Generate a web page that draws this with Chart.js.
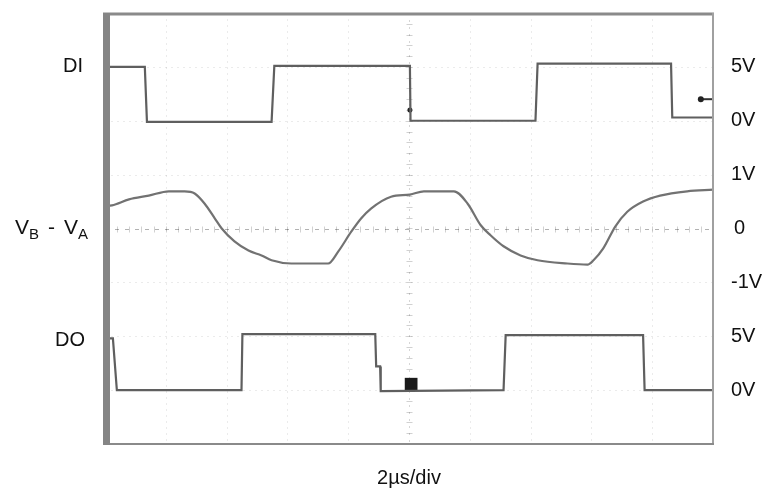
<!DOCTYPE html>
<html>
<head>
<meta charset="utf-8">
<script src="https://cdn.jsdelivr.net/npm/chart.js@4/dist/chart.umd.min.js"></script>
<style>
  html, body { margin: 0; padding: 0; background: #ffffff; }
  #wrap { width: 770px; height: 490px; }
</style>
</head>
<body>
<div id="wrap"><canvas id="scope" width="770" height="490"></canvas></div>
<script>
// Time base: 2 us per division, 10 divisions
const timeTicks = [0, 2, 4, 6, 8, 10, 12, 14, 16, 18, 20];
const verticalDivs = [0, 1, 2, 3, 4, 5, 6, 7, 8];

// DI (driver input), volts vs microseconds
const diTime  = [0, 1.31, 1.38, 5.48, 5.57, 10.03, 10.05, 14.16, 14.23, 18.62, 18.66, 20];
const diVolts = [5.0, 5.0, -0.1, -0.1, 5.1, 5.1, 0.0, 0.0, 5.3, 5.3, 0.3, 0.3];

// Differential bus voltage VB - VA
const diffTime  = [0, 0.23, 0.79, 1.44, 2.10, 2.62, 2.95, 3.28, 3.61, 3.84, 4.26, 4.72, 5.15, 5.48, 6.13, 7.34,
                   7.67, 8.10, 8.43, 8.75, 9.41, 10.03, 10.49, 11.48, 11.93, 12.36, 12.69, 13.11, 13.67, 14.23,
                   15.21, 15.87, 16.07, 16.39, 16.79, 17.18, 17.70, 18.26, 19.15, 20];
const diffVolts = [0.42, 0.43, 0.54, 0.61, 0.69, 0.69, 0.65, 0.46, 0.19, 0.0, -0.24, -0.41, -0.50, -0.59, -0.65, -0.65,
                   -0.43, -0.06, 0.19, 0.37, 0.59, 0.63, 0.69, 0.69, 0.46, 0.06, -0.13, -0.33, -0.50, -0.59,
                   -0.65, -0.67, -0.59, -0.37, 0.04, 0.31, 0.50, 0.61, 0.69, 0.72];

// DO (receiver output)
const doTime  = [0, 0.26, 0.39, 4.49, 4.52, 8.89, 8.92, 9.05, 9.07, 13.11, 13.18, 17.70, 17.75, 20];
const doVolts = [4.8, 4.8, 0.0, 0.0, 5.2, 5.2, 2.2, 2.2, -0.1, 0.0, 5.1, 5.1, 0.0, 0.0];

// Trigger / cursor markers
const trigTime = [19.6, 20];
const trigVolts = [2.0, 2.0];
const diEdgeMark = [{ t: 10.03, v: 1.0 }];
const doCursorMark = [{ t: 10.07, v: 0.55 }];

// Channel labels drawn at the right edge (value on each channel's own scale)
const diTickLabels   = [{ v: 5, text: '5V' }, { v: 0, text: '0V' }];
const diffTickLabels = [{ v: 1, text: '1V' }, { v: 0, text: '0' }, { v: -1, text: '-1V' }];
const doTickLabels   = [{ v: 5, text: '5V' }, { v: 0, text: '0V' }];
const timeBaseLabel = '2µs/div';

const toXY = (ts, vs) => ts.map((t, i) => ({ x: t, y: vs[i] }));
const traceColor = '#5f5f5f';
const FONT = '"Liberation Sans", Arial, sans-serif';

const scopePlugin = {
  id: 'scopeDecor',
  beforeDatasetsDraw(chart) {
    const { ctx, chartArea: a, scales } = chart;
    const sx = scales.x, sy = scales.y;
    ctx.save();
    // faint division grid
    ctx.strokeStyle = 'rgba(0,0,0,0.08)';
    ctx.lineWidth = 1;
    ctx.setLineDash([2, 4]);
    timeTicks.forEach(t => {
      if (t === 10) return;
      const px = Math.round(sx.getPixelForValue(t)) + 0.5;
      ctx.beginPath(); ctx.moveTo(px, a.top); ctx.lineTo(px, a.bottom); ctx.stroke();
    });
    verticalDivs.forEach(d => {
      if (d === 4) return;
      const py = Math.round(sy.getPixelForValue(d)) + 0.5;
      ctx.beginPath(); ctx.moveTo(a.left, py); ctx.lineTo(a.right, py); ctx.stroke();
    });
    // center axes, darker dashes
    const cx = Math.round(sx.getPixelForValue(10)) + 0.5;
    const cy = Math.round(sy.getPixelForValue(4)) + 0.5;
    ctx.strokeStyle = 'rgba(0,0,0,0.30)';
    ctx.setLineDash([4, 6]);
    ctx.beginPath(); ctx.moveTo(a.left, cy); ctx.lineTo(a.right, cy); ctx.stroke();
    ctx.strokeStyle = 'rgba(0,0,0,0.16)';
    ctx.setLineDash([2, 5]);
    ctx.beginPath(); ctx.moveTo(cx, a.top); ctx.lineTo(cx, a.bottom); ctx.stroke();
    // minor ticks on center axes (5 per division)
    ctx.setLineDash([]);
    ctx.strokeStyle = 'rgba(0,0,0,0.18)';
    for (let d = 0; d <= 8; d += 0.2) {
      const py = Math.round(sy.getPixelForValue(d)) + 0.5;
      ctx.beginPath(); ctx.moveTo(cx - 3, py); ctx.lineTo(cx + 3, py); ctx.stroke();
    }
    for (let t = 0; t <= 20; t += 0.4) {
      const px = Math.round(sx.getPixelForValue(t)) + 0.5;
      ctx.beginPath(); ctx.moveTo(px, cy - 3); ctx.lineTo(px, cy + 3); ctx.stroke();
    }
    ctx.restore();
  },
  afterDatasetsDraw(chart) {
    const { ctx, chartArea: a, scales } = chart;
    ctx.save();
    // frame
    ctx.setLineDash([]);
    ctx.strokeStyle = '#8a8a8a';
    ctx.lineWidth = 3;
    ctx.beginPath(); ctx.moveTo(a.left - 2, a.top + 1); ctx.lineTo(a.right + 1, a.top + 1); ctx.stroke();
    ctx.strokeStyle = '#a0a0a0';
    ctx.lineWidth = 2;
    ctx.beginPath(); ctx.moveTo(a.right, a.top); ctx.lineTo(a.right, a.bottom); ctx.stroke();
    ctx.strokeStyle = '#8a8a8a';
    ctx.lineWidth = 2;
    ctx.beginPath(); ctx.moveTo(a.left - 2, a.bottom); ctx.lineTo(a.right + 1, a.bottom); ctx.stroke();
    ctx.fillStyle = '#858585';
    ctx.fillRect(a.left - 2, a.top, 7, a.bottom - a.top + 1);

    // right-hand channel labels
    ctx.fillStyle = '#111111';
    ctx.font = '20px ' + FONT;
    ctx.textAlign = 'left';
    ctx.textBaseline = 'middle';
    const rx = a.right + 18;
    diTickLabels.forEach(l => ctx.fillText(l.text, rx, scales.yDI.getPixelForValue(l.v)));
    diffTickLabels.forEach(l => ctx.fillText(l.text, rx + (l.text === '0' ? 3 : 0), scales.yDiff.getPixelForValue(l.v)));
    doTickLabels.forEach(l => ctx.fillText(l.text, rx, scales.yDO.getPixelForValue(l.v)));

    // left-hand channel names
    const lx = a.left - 20;
    ctx.textAlign = 'right';
    ctx.fillText('DI', lx - 2, scales.yDI.getPixelForValue(5));
    ctx.fillText('DO', lx, scales.yDO.getPixelForValue(4.6));

    // V_B - V_A with subscripts, laid out left to right
    const yMid = scales.yDiff.getPixelForValue(0);
    const parts = [
      { s: 'V', sub: false, gap: 0 }, { s: 'B', sub: true, gap: 9 }, { s: '-', sub: false, gap: 9 },
      { s: 'V', sub: false, gap: 0 }, { s: 'A', sub: true, gap: 0 }
    ];
    const fontFor = p => (p.sub ? '15px ' : '21px ') + FONT;
    let total = 0;
    parts.forEach(p => { ctx.font = fontFor(p); total += ctx.measureText(p.s).width + p.gap; });
    let x = lx + 3 - total;
    ctx.textAlign = 'left';
    parts.forEach(p => {
      ctx.font = fontFor(p);
      ctx.fillText(p.s, x, yMid + (p.sub ? 6 : 0));
      x += ctx.measureText(p.s).width + p.gap;
    });

    // time base
    ctx.font = '20px ' + FONT;
    ctx.textAlign = 'center';
    ctx.fillText(timeBaseLabel, scales.x.getPixelForValue(10), 478);
    ctx.restore();
  }
};

new Chart(document.getElementById('scope'), {
  type: 'line',
  data: {
    datasets: [
      { label: 'DI', data: toXY(diTime, diVolts), yAxisID: 'yDI',
        borderColor: traceColor, borderWidth: 2.2, pointRadius: 0, tension: 0 },
      { label: 'VB - VA', data: toXY(diffTime, diffVolts), yAxisID: 'yDiff',
        borderColor: '#727272', borderWidth: 2.2, pointRadius: 0, tension: 0.35, cubicInterpolationMode: 'monotone' },
      { label: 'DO', data: toXY(doTime, doVolts), yAxisID: 'yDO',
        borderColor: traceColor, borderWidth: 2.2, pointRadius: 0, tension: 0 },
      { label: 'trigger', data: toXY(trigTime, trigVolts), yAxisID: 'yDI',
        borderColor: '#333333', borderWidth: 2, pointRadius: [3, 0], pointBackgroundColor: '#222222',
        pointBorderWidth: 0 },
      { label: 'edge', data: diEdgeMark.map(m => ({ x: m.t, y: m.v })), yAxisID: 'yDI', showLine: false,
        pointRadius: 2.5, pointBackgroundColor: '#222222', pointBorderWidth: 0 },
      { label: 'cursor', data: doCursorMark.map(m => ({ x: m.t, y: m.v })), yAxisID: 'yDO', showLine: false,
        pointStyle: 'rect', pointRadius: 9, pointBackgroundColor: '#1a1a1a', pointBorderWidth: 0 }
    ]
  },
  options: {
    responsive: false,
    animation: false,
    devicePixelRatio: 1,
    layout: { padding: { left: 105, right: 57, top: 13, bottom: 46 } },
    plugins: { legend: { display: false }, tooltip: { enabled: false } },
    scales: {
      x: { type: 'linear', min: 0, max: 20, display: false },
      y: { type: 'linear', min: 0, max: 8, display: false },
      yDI: { type: 'linear', min: -30, max: 10, display: false },
      yDiff: { type: 'linear', min: -4, max: 4, display: false },
      yDO: { type: 'linear', min: -5, max: 35, display: false }
    }
  },
  plugins: [scopePlugin]
});
</script>
</body>
</html>
